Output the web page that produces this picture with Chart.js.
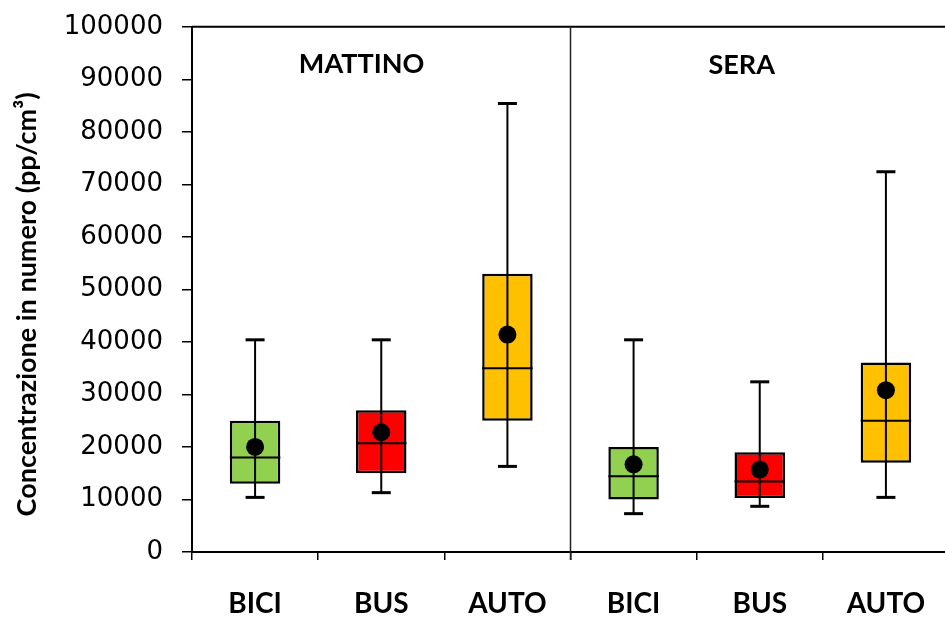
<!DOCTYPE html>
<html>
<head>
<meta charset="utf-8">
<script src="https://cdn.jsdelivr.net/npm/chart.js@4/dist/chart.umd.min.js"></script>
<style>
  html, body { margin: 0; padding: 0; background: #fff; overflow: hidden; }
  #wrap { position: relative; width: 958px; height: 617px; }
</style>
</head>
<body>
<div id="wrap"><canvas id="c"></canvas></div>
<script>
// Transport modes, morning (MATTINO) then evening (SERA)
const categories = ['BICI', 'BUS', 'AUTO', 'BICI', 'BUS', 'AUTO'];
const periods = ['MATTINO', 'SERA'];
const yTitle = 'Concentrazione in numero (pp/cm³)';

// Box-plot statistics, particle number concentration (pp/cm3)
const whiskerLow  = [10400, 11300, 16300,  7300,  8700, 10400];
const q1          = [13000, 15000, 25000, 10000, 10300, 17000];
const medians     = [18000, 20700, 35000, 14400, 13400, 25000];
const q3          = [25000, 27000, 53000, 20000, 19000, 36100];
const whiskerHigh = [40400, 40400, 85400, 40400, 32400, 72400];
const means       = [20000, 22800, 41400, 16700, 15700, 30800];

const boxColors = ['#92D050', '#FF0000', '#FFC000', '#92D050', '#FF0000', '#FFC000'];

const Y_MIN = 0, Y_MAX = 100000, Y_STEP = 10000;

// Whiskers, caps and median lines, drawn right after the boxes
const boxDecor = {
  id: 'boxDecor',
  afterDatasetDraw(chart, args) {
    if (args.index !== 0) return;
    const ctx = chart.ctx;
    const y = chart.scales.y;
    const meta = chart.getDatasetMeta(0);
    ctx.save();
    ctx.strokeStyle = '#000';
    meta.data.forEach((bar, i) => {
      const x = bar.x;
      const half = bar.width / 2;
      // whisker stem
      ctx.lineWidth = 2;
      ctx.beginPath();
      ctx.moveTo(x, y.getPixelForValue(whiskerLow[i]));
      ctx.lineTo(x, y.getPixelForValue(whiskerHigh[i]));
      ctx.stroke();
      // caps
      ctx.lineWidth = 3;
      [whiskerLow[i], whiskerHigh[i]].forEach(v => {
        const py = y.getPixelForValue(v);
        ctx.beginPath();
        ctx.moveTo(x - 9.5, py);
        ctx.lineTo(x + 9.5, py);
        ctx.stroke();
      });
      // median
      ctx.lineWidth = 2;
      const pm = y.getPixelForValue(medians[i]);
      ctx.beginPath();
      ctx.moveTo(x - half, pm);
      ctx.lineTo(x + half, pm);
      ctx.stroke();
    });
    ctx.restore();
  }
};

// Frame top, divider between the two periods, period headings, axis title
const periodPanels = {
  id: 'periodPanels',
  beforeDatasetsDraw(chart) {
    const ctx = chart.ctx;
    const xs = chart.scales.x;
    const area = chart.chartArea;
    const xDiv = xs.getPixelForValue(2.5);
    ctx.save();
    ctx.strokeStyle = '#000';
    ctx.lineWidth = 2;
    ctx.beginPath();
    ctx.moveTo(area.left, area.top);
    ctx.lineTo(area.right, area.top);
    ctx.stroke();

    ctx.strokeStyle = '#222';
    ctx.lineWidth = 1.5;
    ctx.beginPath();
    ctx.moveTo(xDiv, area.top);
    ctx.lineTo(xDiv, area.bottom + 8);
    ctx.stroke();

    ctx.fillStyle = '#000';
    ctx.font = 'bold 27px Lato';
    ctx.textAlign = 'center';
    ctx.textBaseline = 'middle';
    ctx.fillText(periods[0], xs.getPixelForValue(0.844), area.top + 37);
    ctx.fillText(periods[1], xs.getPixelForValue(3.857), area.top + 38);

    // rotated y-axis title
    ctx.save();
    ctx.translate(27, (area.top + area.bottom) / 2 + 15);
    ctx.rotate(-Math.PI / 2);
    ctx.font = 'bold 27px Lato';
    ctx.fillText(yTitle, 0, 0);
    ctx.restore();
    ctx.restore();
  }
};

new Chart(document.getElementById('c'), {
  data: {
    labels: categories,
    datasets: [
      {
        type: 'bar',
        data: q1.map((v, i) => [v, q3[i]]),
        backgroundColor: boxColors,
        borderColor: '#000',
        borderWidth: 2.5,
        borderSkipped: false,
        categoryPercentage: 1,
        barPercentage: 0.4,
        order: 1
      },
      {
        type: 'line',
        data: means,
        showLine: false,
        pointRadius: 9,
        pointHoverRadius: 9,
        pointBackgroundColor: '#000',
        pointBorderColor: '#000',
        pointBorderWidth: 0,
        order: 0
      }
    ]
  },
  options: {
    responsive: true,
    maintainAspectRatio: false,
    animation: false,
    events: [],
    layout: { padding: { top: 26, left: 0, right: 0, bottom: 0 } },
    plugins: {
      legend: { display: false },
      tooltip: { enabled: false }
    },
    scales: {
      x: {
        type: 'category',
        offset: true,
        grid: {
          offset: true,
          drawOnChartArea: false,
          drawTicks: true,
          tickLength: 8,
          color: '#000',
          lineWidth: 1.5
        },
        border: { display: true, color: '#000', width: 2 },
        ticks: {
          color: '#000',
          font: { family: 'Lato', size: 28, weight: 'bold' },
          padding: 27,
          maxRotation: 0,
          autoSkip: false
        },
        afterFit(scale) { scale.height = 65; }
      },
      y: {
        type: 'linear',
        min: Y_MIN,
        max: Y_MAX,
        grid: {
          drawOnChartArea: false,
          drawTicks: true,
          tickLength: 10,
          color: '#000',
          lineWidth: 1.5
        },
        border: { display: true, color: '#000', width: 2 },
        ticks: {
          stepSize: Y_STEP,
          color: '#000',
          font: { family: 'DejaVu Sans', size: 26, lineHeight: 0.6 },
          padding: 19,
          callback: v => String(v)
        },
        title: { display: false },
        afterFit(scale) { scale.width = 192; }
      }
    }
  },
  plugins: [boxDecor, periodPanels]
});
</script>
</body>
</html>
